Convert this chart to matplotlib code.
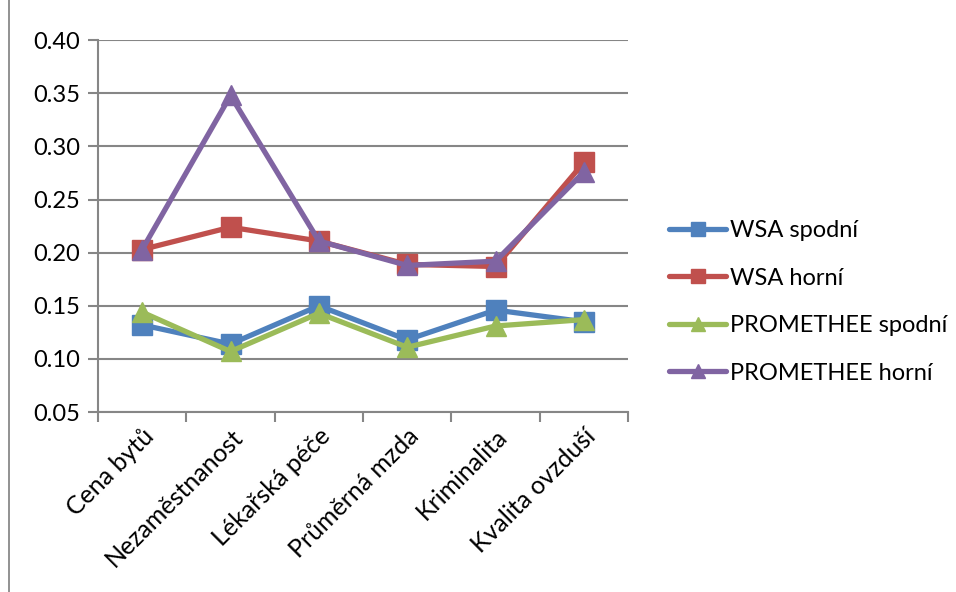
import matplotlib
matplotlib.use("Agg")
import matplotlib.pyplot as plt
from matplotlib.lines import Line2D

plt.rcParams["font.family"] = ["Lato", "DejaVu Sans"]

categories = ["Cena bytů", "Nezaměstnanost", "Lékařská péče",
              "Průměrná mzda", "Kriminalita", "Kvalita ovzduší"]

wsa_spodni = [0.132, 0.114, 0.150, 0.118, 0.146, 0.135]
wsa_horni = [0.203, 0.224, 0.211, 0.189, 0.187, 0.285]
prom_spodni = [0.144, 0.107, 0.143, 0.111, 0.131, 0.137]
prom_horni = [0.203, 0.348, 0.211, 0.188, 0.192, 0.276]

series = [
    ("WSA spodní", wsa_spodni, "#4F81BD", "s"),
    ("WSA horní", wsa_horni, "#C0504D", "s"),
    ("PROMETHEE spodní", prom_spodni, "#9BBB59", "^"),
    ("PROMETHEE horní", prom_horni, "#8064A2", "^"),
]

yticks = [0.05, 0.10, 0.15, 0.20, 0.25, 0.30, 0.35, 0.40]

fig = plt.figure(figsize=(9.56, 5.92), dpi=100)
ax = fig.add_axes([0.1025, 0.304, 0.5545, 0.628])

x = list(range(len(categories)))
grid_col = "#868686"

for label, vals, col, mk in series:
    ax.plot(x, vals, color=col, linewidth=3.8, marker=mk, markersize=15,
            label=label, solid_capstyle="round")

ax.set_xlim(-0.5, len(categories) - 0.5)
ax.set_ylim(0.05, 0.40)
ax.set_yticks(yticks)
ax.set_yticklabels([f"{v:.2f}" for v in yticks], fontsize=17)
ax.yaxis.grid(True, color=grid_col, linewidth=1.5)
ax.set_axisbelow(True)

ax.set_xticks(x)
ax.set_xticklabels(categories, rotation=45, ha="right", rotation_mode="anchor",
                   fontsize=18)
# category boundary ticks
ax.set_xticks([i - 0.5 for i in range(len(categories) + 1)], minor=True)
ax.tick_params(axis="x", which="major", length=0, pad=9)
ax.tick_params(axis="x", which="minor", length=7, color=grid_col, width=1.5)
ax.tick_params(axis="y", length=7, color=grid_col, width=1.5, pad=6)

for side in ("top", "right"):
    ax.spines[side].set_visible(False)
for side in ("left", "bottom"):
    ax.spines[side].set_color(grid_col)
    ax.spines[side].set_linewidth(1.5)

ax.legend(loc="center left", bbox_to_anchor=(0.678, 0.49), bbox_transform=fig.transFigure,
          frameon=False, fontsize=17, markerscale=0.7, handlelength=2.4,
          handletextpad=0.15, labelspacing=1.12)

# chart frame left edge
fig.add_artist(Line2D([9 / 956, 9 / 956], [0, 1], transform=fig.transFigure,
                      color="#7f7f7f", linewidth=1.2))

fig.savefig("out.png", dpi=100)
